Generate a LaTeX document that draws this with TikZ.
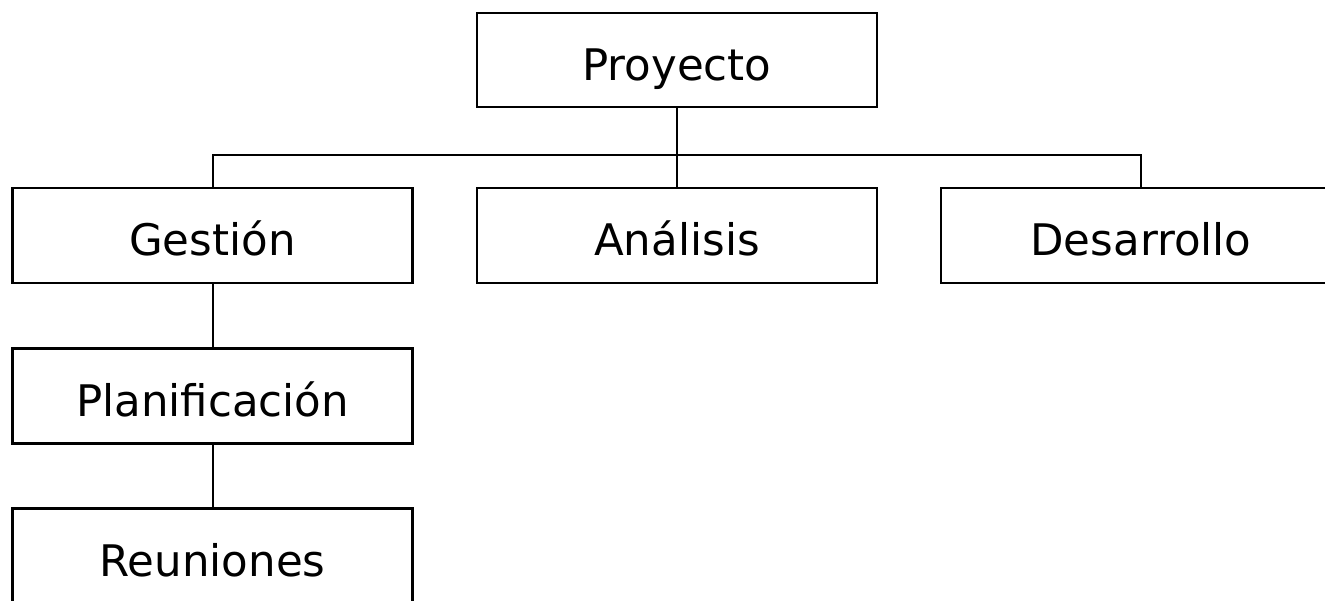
\documentclass[tikz,border=0pt]{standalone}
\usepackage{fontspec}
\setmainfont{DejaVu Sans}
\begin{document}
\begin{tikzpicture}[x=1pt,y=-1pt,
  box/.style={draw=black,line width=2.5pt,minimum width=400pt,minimum height=95pt,inner sep=0pt,text height=42pt,text depth=2pt,font=\fontsize{43.5}{50}\selectfont},
  link/.style={draw=black,line width=2pt}]
\useasboundingbox (0,0) rectangle (1325,600);
\node[box,minimum height=94pt] (proy) at (677,60) {Proyecto};
\node[box] (gest) at (212.5,235.5) {Gestión};
\node[box] (anal) at (677,235.5) {Análisis};
\node[box] (desa) at (1141,235.5) {Desarrollo};
\node[box] (plan) at (212.5,396) {Planificación};
\node[box] (reun) at (212.5,556) {Reuniones};
\coordinate (bar) at (677,155);
\draw[link] (proy.south) -- (bar) -| (gest.north);
\draw[link] (bar) -- (anal.north);
\draw[link] (bar) -| (desa.north);
\draw[link] (gest.south) -- (plan.north);
\draw[link] (plan.south) -- (reun.north);
\end{tikzpicture}
\end{document}
